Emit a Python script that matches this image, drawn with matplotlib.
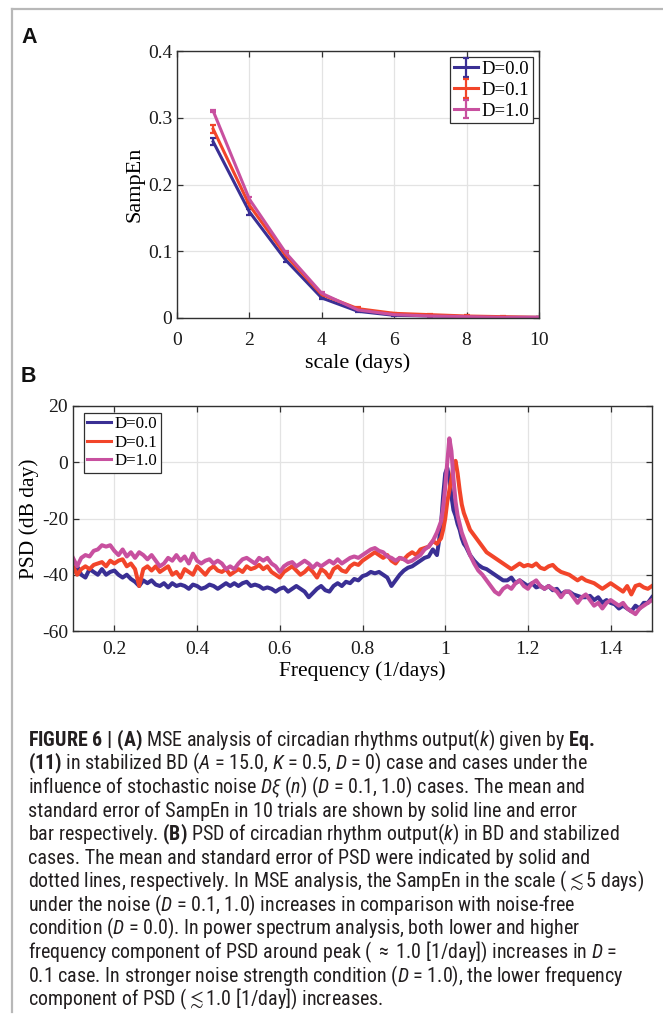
import matplotlib
matplotlib.use("Agg")
import matplotlib.pyplot as plt
import numpy as np
from matplotlib import font_manager as fm
from matplotlib.font_manager import FontProperties
from matplotlib.lines import Line2D

# ---------------- data ----------------
scale_days = [1, 2, 3, 4, 5, 6, 7, 8, 9, 10]
sampen_d00 = [0.264, 0.159, 0.087, 0.030, 0.010, 0.004, 0.003, 0.002, 0.001, 0.001]
sampen_d01 = [0.283, 0.169, 0.094, 0.035, 0.014, 0.007, 0.005, 0.003, 0.002, 0.001]
sampen_d10 = [0.310, 0.178, 0.098, 0.037, 0.012, 0.005, 0.003, 0.002, 0.001, 0.001]
err_d00 = [0.005, 0.004, 0.003, 0.002, 0.001, 0.001, 0.001, 0.001, 0.001, 0.001]
err_d01 = [0.006, 0.004, 0.003, 0.002, 0.002, 0.001, 0.001, 0.001, 0.001, 0.001]
err_d10 = [0.002, 0.003, 0.002, 0.002, 0.001, 0.001, 0.001, 0.001, 0.001, 0.001]

# frequency grid of the PSD panel (1/days)
freq_low = np.round(np.arange(0.10, 0.981, 0.01), 3)          # 0.10 ... 0.98
freq_peak = [0.985, 0.99, 0.995, 1.00, 1.005, 1.01, 1.015, 1.02, 1.025,
             1.03, 1.035, 1.04, 1.045, 1.05]
freq_high = np.round(np.arange(1.06, 1.501, 0.01), 3)         # 1.06 ... 1.50
freq = np.concatenate([freq_low, freq_peak, freq_high])

psd_d00 = [
    -39, -37, -40, -41, -38, -39, -40, -38, -40, -39,
    -38.5, -40, -41, -40, -41.5, -42.5, -44, -42, -43, -42,
    -43.5, -44, -43, -44.5, -43, -44, -43.5, -44, -45, -43.5,
    -44, -45, -44.5, -43.5, -44, -45, -44, -43, -44, -43,
    -44, -43, -42.5, -44, -43.5, -44, -45, -44.5, -45, -46,
    -45, -44.5, -46, -45, -44, -45, -46, -48, -46.5, -45,
    -44, -45.5, -46, -44, -43, -44, -42.5, -43, -41.5, -42,
    -40.5, -40, -39, -39.5, -39, -40, -41, -44, -42, -40,
    -38.5, -37.5, -37, -36, -35, -34, -33.5, -31, -33,
    -28, -22, -12, -4, -2, -6, -12, -17, -19, -22, -24, -27, -29, -30,
    -33, -35, -36.5, -37.5,
    -38, -39, -40, -41, -42, -42, -41, -43, -42, -43,
    -44, -43, -44.5, -44, -45, -44, -45.5, -45, -47, -46,
    -46, -47, -47.5, -48, -48, -47.5, -49, -48, -50, -49,
    -50, -50.5, -52, -51, -52, -53, -51, -52, -50, -50,
    -48]
psd_d01 = [
    -37, -40, -38, -37, -38, -36.5, -36, -35.5, -37, -35,
    -36, -35, -34.5, -37, -36, -38, -44, -38, -37, -38.5,
    -37, -39, -38, -37, -40, -39, -41, -38, -39, -40,
    -37, -38.5, -40, -38, -37, -38.5, -39, -38, -40, -39,
    -38, -39, -37, -38, -37.5, -36.5, -38, -37, -39, -40,
    -41, -39, -38, -37, -38.5, -40, -39, -37.5, -39, -41,
    -38, -39, -41, -38, -37, -38.5, -39, -37, -36, -36.5,
    -35, -34, -33, -32, -33, -34, -33, -35, -36, -34,
    -34.5, -33, -32, -33, -31, -30.5, -30, -28, -29,
    -28, -27, -24, -20, -14, -10, -6, -1, 0.5, -4, -10, -15, -18, -20,
    -24, -26, -28, -30,
    -32, -33, -34, -35, -36, -37, -38, -37, -36, -37,
    -36.5, -37, -36, -37.5, -38, -37, -36.5, -38, -39, -39.5,
    -40, -41, -42, -41, -42, -42.5, -43, -44, -45, -44,
    -43, -44, -45, -46, -44, -47, -44, -43.5, -44.5, -45,
    -44]
psd_d10 = [
    -34, -37, -34, -33, -33.5, -31.5, -31, -29.5, -30, -29.5,
    -31.5, -33, -31, -33.5, -32, -34, -32, -33, -34.5, -33,
    -35, -37, -36, -34, -35, -33, -35, -33.5, -36, -32.5,
    -35, -36, -35, -34.5, -36, -35, -36, -38, -37, -38,
    -36, -34.5, -34, -35, -36, -34, -35, -34, -36, -37,
    -39, -37, -36, -35.5, -37, -36, -35, -36, -37.5, -36,
    -37, -36, -35, -36, -34.5, -36, -35, -34, -33.5, -34,
    -33, -32, -31, -30.5, -31.5, -32, -33.5, -34, -35, -34,
    -34.5, -35.5, -35, -34, -33, -31, -30, -28, -25,
    -23, -21, -16, -9, 0, 8.5, 4, -6, -14, -19, -22, -25, -27, -29,
    -33, -36, -38.5, -40,
    -42, -44, -46, -47, -45, -44, -45, -43, -42, -44,
    -45, -43, -42, -44, -45, -44, -45, -46, -48, -46,
    -46, -48, -50, -48, -47, -49, -51, -50, -52, -50,
    -49, -50, -51, -50, -52, -53, -54, -52, -51, -50,
    -49]

labels = ["D=0.0", "D=0.1", "D=1.0"]
colors = ["#3a2f94", "#f2452a", "#c8509f"]

a_xticks = [0, 2, 4, 6, 8, 10]
a_yticks = [0, 0.1, 0.2, 0.3, 0.4]
a_yticklabels = ["0", "0.1", "0.2", "0.3", "0.4"]
b_xticks = [0.2, 0.4, 0.6, 0.8, 1.0, 1.2, 1.4]
b_xticklabels = ["0.2", "0.4", "0.6", "0.8", "1", "1.2", "1.4"]
b_yticks = [-60, -40, -20, 0, 20]

caption_lines = [
    r"$\mathbf{FIGURE\ 6\ |\ (A)}$ MSE analysis of circadian rhythms output($k$) given by $\mathbf{Eq.}$",
    r"$\mathbf{(11)}$ in stabilized BD ($A$ = 15.0, $K$ = 0.5, $D$ = 0) case and cases under the",
    r"influence of stochastic noise $D\xi$ ($n$) ($D$ = 0.1, 1.0) cases. The mean and",
    "standard error of SampEn in 10 trials are shown by solid line and error",
    r"bar respectively. $\mathbf{(B)}$ PSD of circadian rhythm output($k$) in BD and stabilized",
    "cases. The mean and standard error of PSD were indicated by solid and",
    r"dotted lines, respectively. In MSE analysis, the SampEn in the scale ($\lesssim$5 days)",
    r"under the noise ($D$ = 0.1, 1.0) increases in comparison with noise-free",
    r"condition ($D$ = 0.0). In power spectrum analysis, both lower and higher",
    r"frequency component of PSD around peak ( $\approx$ 1.0 [1/day]) increases in $D$ =",
    r"0.1 case. In stronger noise strength condition ($D$ = 1.0), the lower frequency",
    r"component of PSD ($\lesssim$1.0 [1/day]) increases.",
]

# ---------------- fonts ----------------
plt.rcParams["font.family"] = ["Liberation Serif", "DejaVu Serif"]
plt.rcParams["axes.unicode_minus"] = False

W, H = 663, 1016
fig = plt.figure(figsize=(W / 100, H / 100), dpi=100)
renderer = fig.canvas.get_renderer()


def find_cap_font():
    cands = [("Liberation Sans Narrow", "normal"), ("Roboto Condensed", "normal"),
             ("DejaVu Sans Condensed", "normal"), ("DejaVu Sans", "condensed"),
             ("Liberation Sans", "normal")]
    best, best_w = ("Liberation Sans", "normal"), None
    probe = "cases. The mean and standard error of PSD were indicated by solid and"
    for fam, st in cands:
        try:
            path = fm.findfont(FontProperties(family=fam, stretch=st),
                               fallback_to_default=False)
        except Exception:
            continue
        ents = [e for e in fm.fontManager.ttflist if e.fname == path]
        if not ents or ents[0].name != fam:
            continue
        if st == "condensed" and "condens" not in str(ents[0].stretch) \
                and "ondensed" not in path:
            continue
        t = fig.text(0, 0, probe, family=fam, stretch=st, fontsize=12)
        w = t.get_window_extent(renderer).width
        t.remove()
        if best_w is None or w < best_w:
            best, best_w = (fam, st), w
    return best


cap_fam, cap_st = find_cap_font()
plt.rcParams["mathtext.fontset"] = "custom"
plt.rcParams["mathtext.rm"] = f"{cap_fam}:stretch={cap_st}"
plt.rcParams["mathtext.it"] = f"{cap_fam}:style=italic:stretch={cap_st}"
plt.rcParams["mathtext.bf"] = f"{cap_fam}:weight=bold:stretch={cap_st}"


def fx(px):
    return px / W


def fy(py):
    return 1 - py / H


spine_c = "#303030"
grid_c = "#e3e3e3"


def style_axes(ax, tick_fs):
    for s in ax.spines.values():
        s.set_color(spine_c)
        s.set_linewidth(1.0)
    ax.tick_params(direction="in", length=4, width=0.9, colors=spine_c,
                   top=True, right=True, labelsize=tick_fs, labelcolor="#1a1a1a")
    ax.grid(True, color=grid_c, linewidth=0.9)
    ax.set_axisbelow(True)


# ---------------- panel A ----------------
axA = fig.add_axes([fx(177), fy(318), fx(539 - 177), (318 - 51) / H])
for y, e, c, lab in zip([sampen_d00, sampen_d01, sampen_d10],
                        [err_d00, err_d01, err_d10], colors, labels):
    axA.errorbar(scale_days, y, yerr=e, color=c, lw=2.2, elinewidth=1.6,
                 capsize=2, capthick=1.6, label=lab)
axA.set_xlim(0, 10)
axA.set_ylim(0, 0.4)
axA.set_xticks(a_xticks)
axA.set_yticks(a_yticks)
axA.set_yticklabels(a_yticklabels)
style_axes(axA, 14)
axA.tick_params(axis="x", pad=10)
axA.set_xlabel("scale (days)", fontsize=16, labelpad=3)
axA.set_ylabel("SampEn", fontsize=16, labelpad=2)
legA = axA.legend(loc="upper right", bbox_to_anchor=(fx(533), fy(57)),
                  bbox_transform=fig.transFigure, borderaxespad=0, fontsize=13.5,
                  fancybox=False, framealpha=1, edgecolor="#303030",
                  handlelength=1.3, handletextpad=0.2, labelspacing=0.2,
                  borderpad=0.2)
legA.get_frame().set_linewidth(0.9)

# ---------------- panel B ----------------
axB = fig.add_axes([fx(73), fy(631), fx(652 - 73), (631 - 406) / H])
for y, c, lab in zip([psd_d00, psd_d01, psd_d10], colors, labels):
    axB.plot(freq, y, color=c, lw=2.9, label=lab, solid_joinstyle="round")
axB.set_xlim(0.1, 1.5)
axB.set_ylim(-60, 20)
axB.set_xticks(b_xticks)
axB.set_xticklabels(b_xticklabels)
axB.set_yticks(b_yticks)
style_axes(axB, 14)
axB.tick_params(axis="x", pad=7.5)
axB.set_xlabel("Frequency (1/days)", fontsize=15.5, labelpad=2)
axB.set_ylabel("PSD (dB day)", fontsize=15.5, labelpad=2)
legB = axB.legend(loc="upper left", bbox_to_anchor=(fx(84), fy(413)),
                  bbox_transform=fig.transFigure, borderaxespad=0, fontsize=12.2,
                  fancybox=False, framealpha=1, edgecolor="#303030",
                  handlelength=1.4, handletextpad=0.2, labelspacing=0.14,
                  borderpad=0.2)
legB.get_frame().set_linewidth(0.9)
for ln in legB.get_lines():
    ln.set_linewidth(2.2)

# ---------------- panel letters & frame ----------------
fig.text(fx(21), fy(27), "A", family="Liberation Sans", weight="bold",
         fontsize=15.5, va="top", ha="left", color="#111111")
fig.text(fx(21), fy(366), "B", family="Liberation Sans", weight="bold",
         fontsize=15.5, va="top", ha="left", color="#111111")
fig.add_artist(Line2D([fx(12), fx(12)], [fy(9), fy(1012)], transform=fig.transFigure,
                      color="#b8b8b8", lw=1.6))
fig.add_artist(Line2D([fx(12), 1.0], [fy(9), fy(9)], transform=fig.transFigure,
                      color="#b8b8b8", lw=1.6))

# ---------------- caption ----------------
y0, dy = 740, 23.6
texts = []
for i, line in enumerate(caption_lines):
    t = fig.text(fx(28), fy(y0 + i * dy), line, family=cap_fam, stretch=cap_st,
                 fontsize=12, va="center", ha="left", color="#231f20")
    texts.append(t)
w5 = texts[4].get_window_extent(renderer).width
w7 = texts[6].get_window_extent(renderer).width
fs = min(12 * 602.0 / w5, 12 * 615.0 / w7)
for t in texts:
    t.set_fontsize(fs)

fig.savefig("out.png", dpi=100)
